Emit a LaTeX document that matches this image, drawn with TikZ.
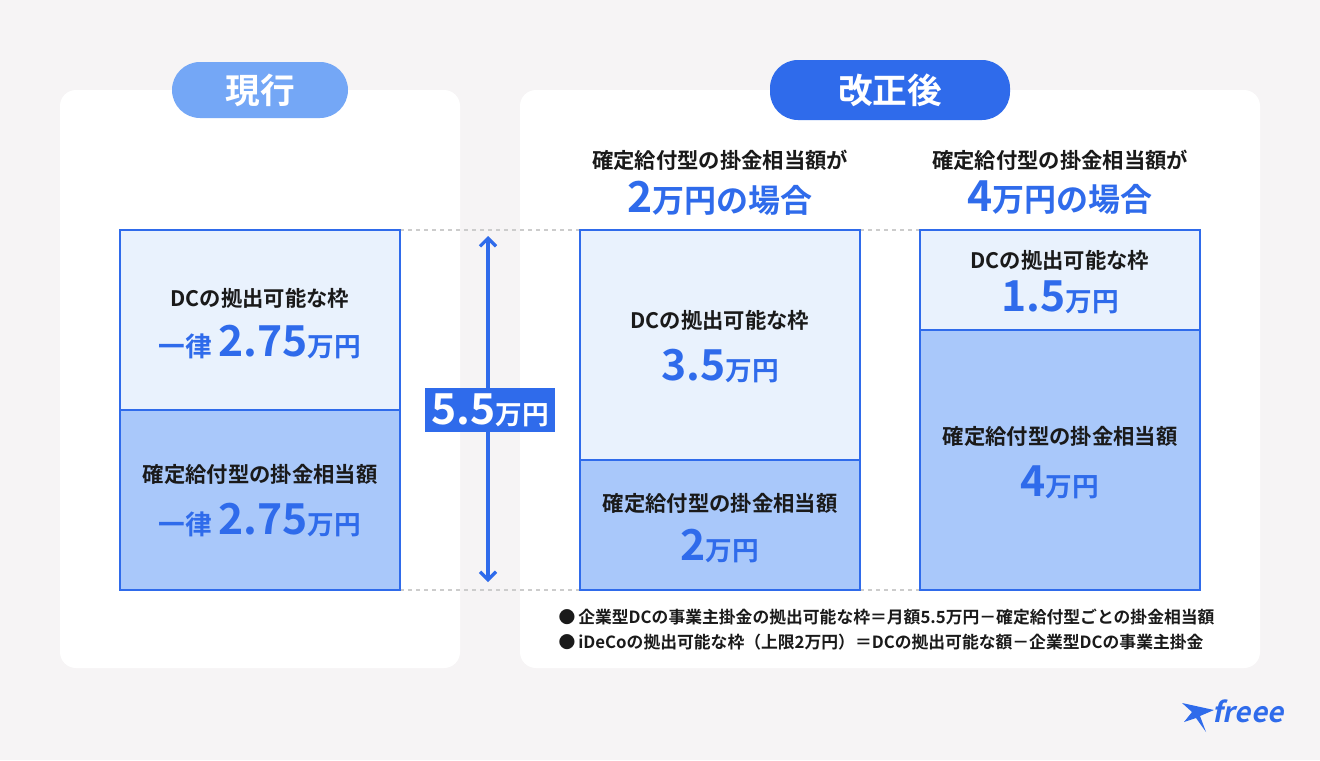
\documentclass[tikz,border=0pt]{standalone}
\usepackage{fontspec}
\usetikzlibrary{arrows.meta}
\newfontfamily\jp{Noto Sans CJK JP Bold}
\definecolor{bg}{HTML}{F6F4F5}
\definecolor{fb}{HTML}{2F6BEB}
\definecolor{lb}{HTML}{74A7F6}
\definecolor{tp}{HTML}{E9F2FD}
\definecolor{bt}{HTML}{A9C8FA}
\definecolor{tx}{HTML}{1A1A1A}
\tikzset{
 panel/.style={fill=white,rounded corners=12pt},
 pill/.style={rounded corners=21pt},
 upbox/.style={fill=tp,draw=fb,line width=1.1pt},
 lowbox/.style={fill=bt,draw=fb,line width=1.1pt},
 lbl/.style={font=\jp\fontsize{16}{19}\selectfont,text=tx,align=center},
 big/.style={font=\jp\fontsize{20}{23}\selectfont,text=fb,align=center},
 guide/.style={draw=gray!40,dashed,line width=1pt},
 note/.style={font=\jp\fontsize{12.6}{15}\selectfont,text=tx,anchor=west}
}
\newcommand{\bn}[1]{{\fontsize{32}{34}\selectfont #1}}
\begin{document}
\begin{tikzpicture}[x=0.75pt,y=-0.75pt]
\useasboundingbox[fill=bg] (0,0) rectangle (1320,760);
\fill[panel] (60,90) rectangle (460,668);
\fill[panel] (520,90) rectangle (1260,668);
\fill[lb,pill] (172,62) rectangle (348,118);
\node[font=\jp\fontsize{26}{28}\selectfont,text=white] (p1) at (260,90) {現行};
\fill[fb,pill] (770,60) rectangle (1010,120);
\node[font=\jp\fontsize{26}{28}\selectfont,text=white] (p2) at (890,90) {改正後};
% guides
\coordinate (g1) at (400,230); \coordinate (g2) at (580,230);
\coordinate (g3) at (860,230); \coordinate (g4) at (920,230);
\coordinate (h1) at (400,590); \coordinate (h2) at (580,590);
\coordinate (h3) at (860,590); \coordinate (h4) at (920,590);
\draw[guide] (g1)--(g2) (g3)--(g4) (h1)--(h2) (h3)--(h4);
% left
\draw[upbox] (120,230) rectangle (400,410);
\draw[lowbox] (120,410) rectangle (400,590);
\node[lbl] (a1) at (260,298) {DCの拠出可能な枠};
\node[big] (a2) at (260,342) {一律 \bn{2.75}万円};
\node[lbl] (a3) at (260,474) {確定給付型の掛金相当額};
\node[big] (a4) at (260,520) {一律 \bn{2.75}万円};
% arrow
\coordinate (t) at (488,236); \coordinate (b) at (488,582);
\draw[fb,line width=2.4pt,{Straight Barb[length=6pt,width=12pt]}-{Straight Barb[length=6pt,width=12pt]}] (t)--(b);
\node[fill=fb,text=white,font=\jp\fontsize{20}{23}\selectfont,minimum width=97pt,minimum height=33pt,inner sep=0pt] (m) at (490,410) {\bn{5.5}万円};
% middle
\node[lbl] (c0) at (720,160) {確定給付型の掛金相当額が};
\node[big,font=\jp\fontsize{24}{28}\selectfont] (c00) at (720,198) {\bn{2}万円の場合};
\draw[upbox] (580,230) rectangle (860,460);
\draw[lowbox] (580,460) rectangle (860,590);
\node[lbl] (c1) at (720,320) {DCの拠出可能な枠};
\node[big] (c2) at (720,366) {\bn{3.5}万円};
\node[lbl] (c3) at (720,503) {確定給付型の掛金相当額};
\node[big] (c4) at (720,546) {\bn{2}万円};
% right
\node[lbl] (d0) at (1060,160) {確定給付型の掛金相当額が};
\node[big,font=\jp\fontsize{24}{28}\selectfont] (d00) at (1060,198) {\bn{4}万円の場合};
\draw[upbox] (920,230) rectangle (1200,330);
\draw[lowbox] (920,330) rectangle (1200,590);
\node[lbl] (d1) at (1060,260) {DCの拠出可能な枠};
\node[big] (d2) at (1060,297) {\bn{1.5}万円};
\node[lbl] (d3) at (1060,436) {確定給付型の掛金相当額};
\node[big] (d4) at (1060,482) {\bn{4}万円};
% notes
\node[note] (n1) at (554,617) {●\,企業型DCの事業主掛金の拠出可能な枠＝月額5.5万円－確定給付型ごとの掛金相当額};
\node[note] (n2) at (554,642) {●\,iDeCoの拠出可能な枠（上限2万円）＝DCの拠出可能な額－企業型DCの事業主掛金};
% logo
\fill[fb] (1182,703) -- (1214,710) -- (1200,716) -- (1206,732) -- (1196,718) -- (1184,722) -- (1192,712) -- cycle;
\node[text=fb,font=\jp\fontsize{21}{24}\selectfont,anchor=west,xslant=0.2] (logo) at (1210,711) {freee};
\end{tikzpicture}
\end{document}
